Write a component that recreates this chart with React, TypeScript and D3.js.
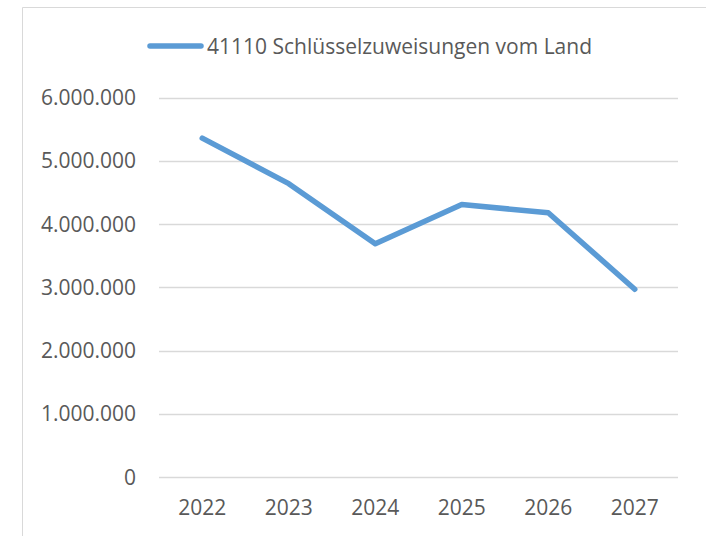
import React, { useRef, useEffect } from 'react';
import * as d3 from 'd3';

const years = ['2022', '2023', '2024', '2025', '2026', '2027'];
const values = [5360000, 4640000, 3690000, 4310000, 4180000, 2970000];
const yTicks = [0, 1000000, 2000000, 3000000, 4000000, 5000000, 6000000];
const seriesName = '41110 Schlüsselzuweisungen vom Land';

const App = () => {
    const width = 706;
    const height = 536;
    const margin = { left: 159, right: 28, top: 97.7, bottom: 59 };
    const chartRef = useRef<HTMLDivElement>(null);

    useEffect(() => {
        if (!chartRef.current) return;
        d3.select(chartRef.current).selectAll('*').remove();

        const svg = d3.select(chartRef.current)
            .append('svg')
            .attr('width', width)
            .attr('height', height)
            .style('position', 'absolute')
            .style('left', 0)
            .style('top', 0)
            .style('overflow', 'hidden')
            .style('font-family', '"Open Sans", sans-serif');

        svg.append('rect')
            .attr('width', width)
            .attr('height', height)
            .attr('fill', '#fff');

        // chart frame: only top and left edges are inside the picture
        svg.append('path')
            .attr('d', `M22.5,${height}V7.5H${width}`)
            .attr('fill', 'none')
            .attr('stroke', '#d9d9d9');

        const x = d3.scaleBand()
            .domain(years)
            .range([margin.left, width - margin.right]);

        const y = d3.scaleLinear()
            .domain([0, 6000000])
            .range([height - margin.bottom, margin.top]);

        const fmt = (v: number) => d3.format(',')(v).replace(/,/g, '.');

        // gridlines
        svg.append('g')
            .selectAll('line')
            .data(yTicks)
            .enter()
            .append('line')
            .attr('x1', margin.left)
            .attr('x2', width - margin.right)
            .attr('y1', d => Math.round(y(d)) + 0.5)
            .attr('y2', d => Math.round(y(d)) + 0.5)
            .attr('stroke', '#d9d9d9')
            .attr('stroke-width', 1.3);

        // y labels
        svg.append('g')
            .selectAll('text')
            .data(yTicks)
            .enter()
            .append('text')
            .attr('x', 136)
            .attr('y', d => y(d))
            .attr('dy', '0.36em')
            .attr('text-anchor', 'end')
            .attr('font-size', 21)
            .attr('fill', '#595959')
            .text(d => fmt(d));

        // x labels
        svg.append('g')
            .selectAll('text')
            .data(years)
            .enter()
            .append('text')
            .attr('x', d => (x(d) as number) + x.bandwidth() / 2)
            .attr('y', 507)
            .attr('dy', '0.36em')
            .attr('text-anchor', 'middle')
            .attr('font-size', 21)
            .attr('fill', '#595959')
            .text(d => d);

        const line = d3.line<number>()
            .x((d, i) => (x(years[i]) as number) + x.bandwidth() / 2)
            .y(d => y(d));

        svg.append('path')
            .datum(values)
            .attr('d', line)
            .attr('fill', 'none')
            .attr('stroke', '#5b9bd5')
            .attr('stroke-width', 5.5)
            .attr('stroke-linejoin', 'round')
            .attr('stroke-linecap', 'round');

        // legend
        const legend = svg.append('g');
        legend.append('line')
            .attr('x1', 150)
            .attr('x2', 201)
            .attr('y1', 46)
            .attr('y2', 46)
            .attr('stroke', '#5b9bd5')
            .attr('stroke-width', 5.5)
            .attr('stroke-linecap', 'round');
        legend.append('text')
            .attr('x', 207)
            .attr('y', 46)
            .attr('dy', '0.36em')
            .attr('font-size', 21)
            .attr('fill', '#595959')
            .text(seriesName);
    }, []);

    return (
        <div>
            <div ref={chartRef}></div>
        </div>
    );
};

export default App;
